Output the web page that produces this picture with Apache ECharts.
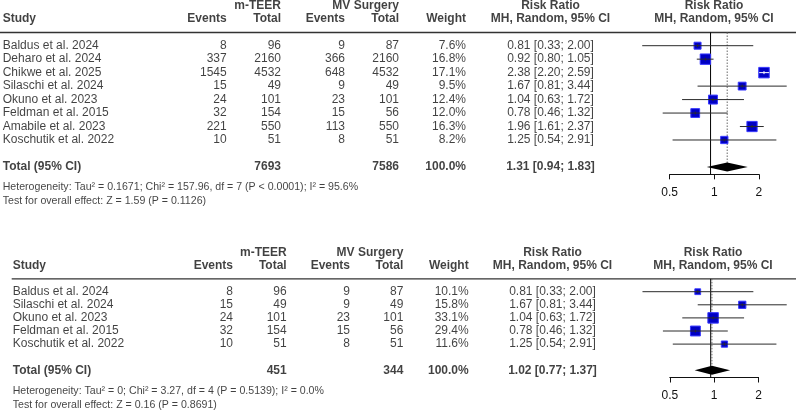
<!DOCTYPE html>
<html>
<head>
<meta charset="utf-8">
<script src="https://cdn.jsdelivr.net/npm/echarts@6/dist/echarts.min.js"></script>
<style>
html, body { margin: 0; padding: 0; background: #fff; }
#chart { width: 796px; height: 417px; }
</style>
</head>
<body>
<div id="chart"></div>
<script>
// ---- panel A: all studies ----
const studiesA = ['Baldus et al. 2024', 'Deharo et al. 2024', 'Chikwe et al. 2025', 'Silaschi et al. 2024',
  'Okuno et al. 2023', 'Feldman et al. 2015', 'Amabile et al. 2023', 'Koschutik et al. 2022']
const teerEventsA = [8, 337, 1545, 15, 24, 32, 221, 10]
const teerTotalA = [96, 2160, 4532, 49, 101, 154, 550, 51]
const surgEventsA = [9, 366, 648, 9, 23, 15, 113, 8]
const surgTotalA = [87, 2160, 4532, 49, 101, 56, 550, 51]
const weightA = [7.6, 16.8, 17.1, 9.5, 12.4, 12.0, 16.3, 8.2]
const rrA = [0.81, 0.92, 2.38, 1.67, 1.04, 0.78, 1.96, 1.25]
const lowerA = [0.33, 0.80, 2.20, 0.81, 0.63, 0.46, 1.61, 0.54]
const upperA = [2.00, 1.05, 2.59, 3.44, 1.72, 1.32, 2.37, 2.91]
const totalsA = [7693, 7586]
const pooledA = [1.31, 0.94, 1.83] // estimate, lower, upper
const hetA = 'Heterogeneity: Tau² = 0.1671; Chi² = 157.96, df = 7 (P < 0.0001); I² = 95.6%'
const effectA = 'Test for overall effect: Z = 1.59 (P = 0.1126)'

// ---- panel B: subset ----
const studiesB = ['Baldus et al. 2024', 'Silaschi et al. 2024', 'Okuno et al. 2023', 'Feldman et al. 2015', 'Koschutik et al. 2022']
const teerEventsB = [8, 15, 24, 32, 10]
const teerTotalB = [96, 49, 101, 154, 51]
const surgEventsB = [9, 9, 23, 15, 8]
const surgTotalB = [87, 49, 101, 56, 51]
const weightB = [10.1, 15.8, 33.1, 29.4, 11.6]
const rrB = [0.81, 1.67, 1.04, 0.78, 1.25]
const lowerB = [0.33, 0.81, 0.63, 0.46, 0.54]
const upperB = [2.00, 3.44, 1.72, 1.32, 2.91]
const totalsB = [451, 344]
const pooledB = [1.02, 0.77, 1.37]
const hetB = 'Heterogeneity: Tau² = 0; Chi² = 3.27, df = 4 (P = 0.5139); I² = 0.0%'
const effectB = 'Test for overall effect: Z = 0.16 (P = 0.8691)'

const W = 796
const FONT = "'Liberation Sans', Arial, Helvetica, sans-serif"
const chart = echarts.init(document.getElementById('chart'))

const fmtRR = (e, l, u) => e.toFixed(2) + ' [' + l.toFixed(2) + '; ' + u.toFixed(2) + ']'

const option = {
  animation: false,
  backgroundColor: '#fff',
  grid: [],
  xAxis: [],
  yAxis: [],
  series: []
}

function addPanel(p) {
  const g = option.grid.length
  const top = p.row0 + p.rMin * p.step
  const height = (p.rMax - p.rMin) * p.step
  const n = p.studies.length
  const totalRow = n + 1
  const axisRow = totalRow + 0.55
  const ruleRow = -0.98

  // text grid (x in px columns, y in rows)
  option.grid.push({ left: 0, top: top, width: W, height: height })
  option.xAxis.push({ gridIndex: g, type: 'value', min: 0, max: W, show: false })
  option.yAxis.push({ gridIndex: g, type: 'value', min: p.rMin, max: p.rMax, inverse: true, show: false })
  // forest grid (log2 scale, 0.25 .. 4)
  option.grid.push({ left: p.x1 - 2 * p.unit, top: top, width: 4 * p.unit, height: height })
  option.xAxis.push({ gridIndex: g + 1, type: 'log', logBase: 2, min: 0.25, max: 4, show: false })
  option.yAxis.push({ gridIndex: g + 1, type: 'value', min: p.rMin, max: p.rMax, inverse: true, show: false })
  // visible axis 0.5 .. 2
  const axisY = p.row0 + axisRow * p.step
  option.grid.push({ left: p.x1 - p.unit, top: axisY - 4, width: 2 * p.unit, height: 4 })
  option.xAxis.push({
    gridIndex: g + 2, type: 'log', logBase: 2, min: 0.5, max: 2,
    axisLine: { lineStyle: { color: '#111', width: 1 } },
    axisTick: { length: 5, lineStyle: { color: '#111' } },
    axisLabel: { color: '#111', fontSize: 12, fontFamily: FONT, margin: 12 },
    splitLine: { show: false }
  })
  option.yAxis.push({ gridIndex: g + 2, type: 'value', show: false })

  // text
  const c = p.cols
  const items = []
  const t = (x, row, text, align, bold, size) => items.push({
    name: String(text), value: [x, row],
    label: { align: align, fontWeight: bold ? 'bold' : 'normal', fontSize: size || 12 }
  })
  t(c.tot, -3, 'm-TEER', 'right', true)
  t(c.mvTot, -3, 'MV Surgery', 'right', true)
  t(c.rr, -3, 'Risk Ratio', 'center', true)
  t(c.plot, -3, 'Risk Ratio', 'center', true)
  t(c.study, -2, 'Study', 'left', true)
  t(c.ev, -2, 'Events', 'right', true)
  t(c.tot, -2, 'Total', 'right', true)
  t(c.mvEv, -2, 'Events', 'right', true)
  t(c.mvTot, -2, 'Total', 'right', true)
  t(c.w, -2, 'Weight', 'right', true)
  t(c.rr, -2, 'MH, Random, 95% CI', 'center', true)
  t(c.plot, -2, 'MH, Random, 95% CI', 'center', true)
  for (let i = 0; i < n; i++) {
    t(c.study, i, p.studies[i], 'left')
    t(c.ev, i, p.ev1[i], 'right')
    t(c.tot, i, p.tot1[i], 'right')
    t(c.mvEv, i, p.ev2[i], 'right')
    t(c.mvTot, i, p.tot2[i], 'right')
    t(c.w, i, p.weight[i].toFixed(1) + '%', 'right')
    t(c.rr, i, fmtRR(p.rr[i], p.lo[i], p.hi[i]), 'center')
  }
  t(c.study, totalRow, 'Total (95% CI)', 'left', true)
  t(c.tot, totalRow, p.totals[0], 'right', true)
  t(c.mvTot, totalRow, p.totals[1], 'right', true)
  t(c.w, totalRow, '100.0%', 'right', true)
  t(c.rr, totalRow, fmtRR(p.pooled[0], p.pooled[1], p.pooled[2]), 'center', true)
  t(c.study, totalRow + 20.5 / p.step, p.het, 'left', false, 10.6)
  t(c.study, totalRow + 34.5 / p.step, p.effect, 'left', false, 10.6)

  option.series.push({
    type: 'scatter', xAxisIndex: g, yAxisIndex: g, symbolSize: 0, silent: true,
    label: { show: true, position: 'inside', formatter: '{b}', color: '#111', fontFamily: FONT, verticalAlign: 'middle' },
    data: items
  })
  // header rule
  option.series.push({
    type: 'line', xAxisIndex: g, yAxisIndex: g, symbol: 'none', silent: true,
    lineStyle: { color: '#333', width: 1.3 },
    data: [[p.ruleX0, ruleRow], [W, ruleRow]]
  })
  // line of no effect
  option.series.push({
    type: 'line', xAxisIndex: g + 1, yAxisIndex: g + 1, symbol: 'none', silent: true,
    lineStyle: { color: '#000', width: 1 },
    data: [[1, ruleRow], [1, axisRow]]
  })
  // pooled estimate (dotted)
  option.series.push({
    type: 'line', xAxisIndex: g + 1, yAxisIndex: g + 1, symbol: 'none', silent: true,
    lineStyle: { color: '#666', width: 1, type: [1.5, 1.5] },
    data: [[p.pooled[0], ruleRow], [p.pooled[0], totalRow - 0.3]]
  })
  // squares
  const maxW = Math.max(...p.weight)
  const sizes = p.weight.map(w => 10.5 * Math.sqrt(w / maxW))
  option.series.push({
    type: 'scatter', xAxisIndex: g + 1, yAxisIndex: g + 1, symbol: 'rect', silent: true,
    itemStyle: { color: '#0000c4', borderColor: '#3838ff', borderWidth: 1, opacity: 1 },
    data: p.rr.map((v, i) => ({ value: [v, i], symbolSize: sizes[i] })),
    z: 3
  })
  // confidence intervals
  option.series.push({
    type: 'custom', xAxisIndex: g + 1, yAxisIndex: g + 1, silent: true, z: 4,
    encode: { x: [0, 1, 3], y: 2 },
    data: p.rr.map((v, i) => [p.lo[i], p.hi[i], i, v, sizes[i]]),
    renderItem: (params, api) => {
      const row = api.value(2)
      const a = api.coord([api.value(0), row])
      const b = api.coord([api.value(1), row])
      const m = api.coord([api.value(3), row])
      const half = api.value(4) / 2 + 0.5
      const inside = a[0] >= m[0] - half && b[0] <= m[0] + half
      const col = inside ? '#fff' : '#2a2a2a'
      return {
        type: 'group', children: [
          { type: 'line', shape: { x1: a[0], y1: a[1], x2: b[0], y2: b[1] }, style: { stroke: col, lineWidth: 1 } },
          { type: 'line', shape: { x1: m[0], y1: m[1] - 1.5, x2: m[0], y2: m[1] + 1.5 }, style: { stroke: col, lineWidth: 1 } }
        ]
      }
    }
  })
  // pooled diamond
  option.series.push({
    type: 'custom', xAxisIndex: g + 1, yAxisIndex: g + 1, silent: true, z: 4,
    encode: { x: [0, 1, 2], y: 3 },
    data: [[p.pooled[1], p.pooled[0], p.pooled[2], totalRow]],
    renderItem: (params, api) => {
      const row = api.value(3)
      const l = api.coord([api.value(0), row])
      const m = api.coord([api.value(1), row])
      const r = api.coord([api.value(2), row])
      return {
        type: 'polygon',
        shape: { points: [[l[0], m[1]], [m[0], m[1] - 4.5], [r[0], m[1]], [m[0], m[1] + 4.5]] },
        style: { fill: '#000' }
      }
    }
  })
}

addPanel({
  studies: studiesA, ev1: teerEventsA, tot1: teerTotalA, ev2: surgEventsA, tot2: surgTotalA,
  weight: weightA, rr: rrA, lo: lowerA, hi: upperA, totals: totalsA, pooled: pooledA,
  het: hetA, effect: effectA,
  row0: 45.7, step: 13.47, rMin: -3.3, rMax: 12.2,
  x1: 714.3, unit: 44.6, ruleX0: 0,
  cols: { study: 2.7, ev: 226.7, tot: 281, mvEv: 345, mvTot: 399, w: 466, rr: 550.5, plot: 714 }
})
addPanel({
  studies: studiesB, ev1: teerEventsB, tot1: teerTotalB, ev2: surgEventsB, tot2: surgTotalB,
  weight: weightB, rr: rrB, lo: lowerB, hi: upperB, totals: totalsB, pooled: pooledB,
  het: hetB, effect: effectB,
  row0: 291.7, step: 13.1, rMin: -3.3, rMax: 9.4,
  x1: 714.2, unit: 44.4, ruleX0: 11.7,
  cols: { study: 12.7, ev: 233, tot: 286.7, mvEv: 350, mvTot: 403.3, w: 468.7, rr: 552.5, plot: 713 }
})

chart.setOption(option)
</script>
</body>
</html>
